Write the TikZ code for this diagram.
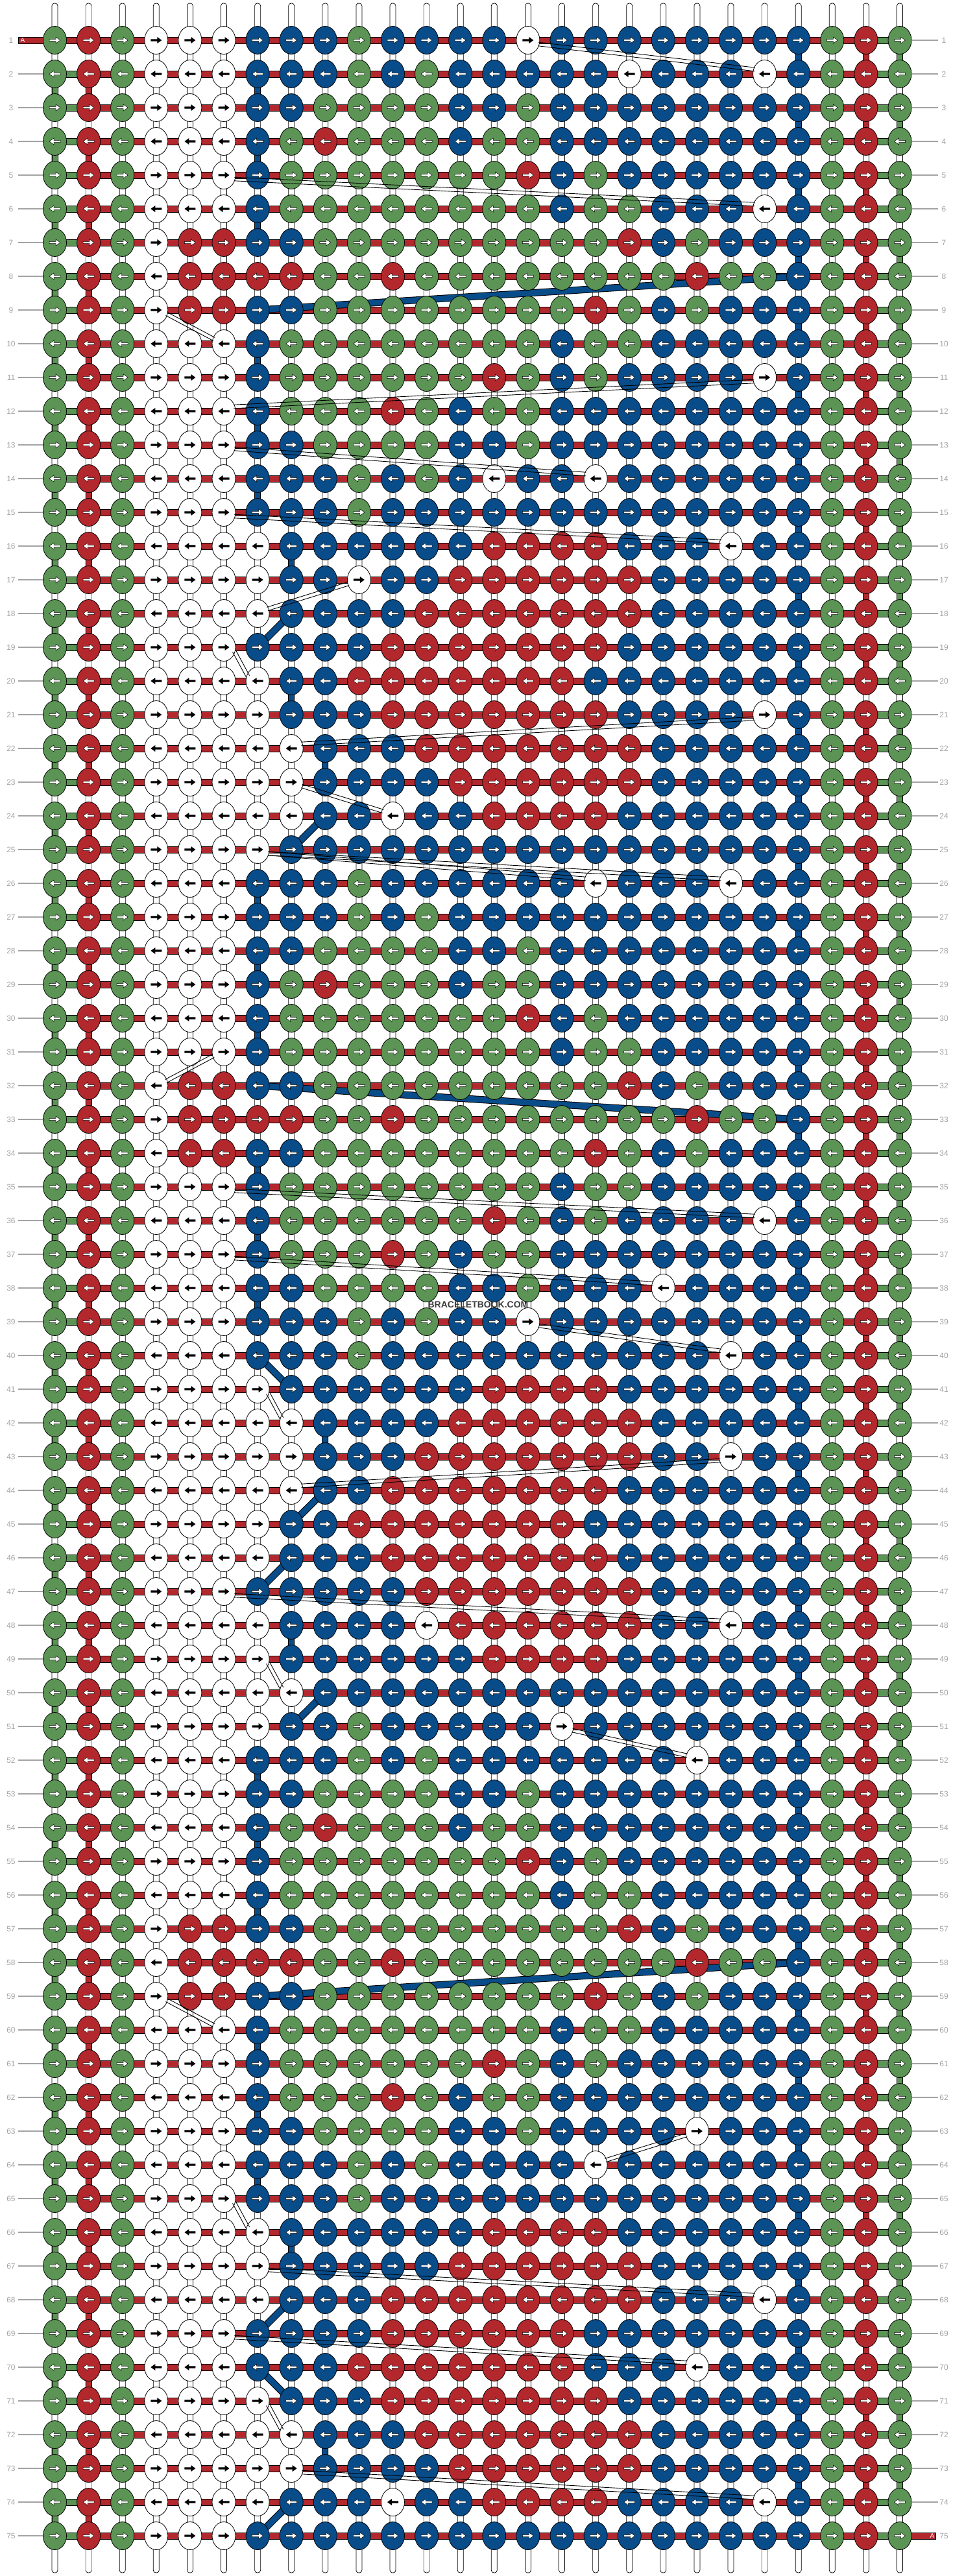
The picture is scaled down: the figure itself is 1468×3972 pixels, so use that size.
\documentclass[tikz,border=0pt]{standalone}
\usepackage{fontspec}
\setmainfont{Liberation Sans}
\definecolor{kG}{HTML}{5B9454}
\definecolor{kR}{HTML}{B2282D}
\definecolor{kB}{HTML}{084C8A}
\definecolor{kW}{HTML}{FFFFFF}
\definecolor{numgray}{HTML}{A3A3A3}
\definecolor{wmgray}{HTML}{3C3C3C}
\newcount\kc
\newcount\kr
\def\arrowpath{(-8.5,-1.6) -- (1.5,-1.6) -- (1.5,-5) -- (8.5,0) -- (1.5,5) -- (1.5,1.6) -- (-8.5,1.6) -- cycle}
\newcommand\putknot[3]{%
  \pgfmathsetmacro\xx{84.5+52.1*(#1-1)}%
  \pgfmathsetmacro\yy{62+52*(#2-1)}%
  \ifodd#2\relax\def\adir{1}\else\def\adir{-1}\fi
  \filldraw[fill=k#3,draw=black,line width=0.8pt] (\xx,\yy) ellipse [x radius=18,y radius=21.5];
  \ifx#3W%
    \fill[black,shift={(\xx,\yy)},xscale=\adir] \arrowpath;
  \else
    \filldraw[fill=white,draw=black,line width=0.5pt,shift={(\xx,\yy)},xscale=\adir] \arrowpath;
  \fi}
\def\knotrow#1#2{\kc=0 \kr=#1\relax\knotparse#2\relax}
\def\knotparse#1{\ifx#1\relax\else\advance\kc by 1 \putknot{\the\kc}{\the\kr}{#1}\expandafter\knotparse\fi}
\newcommand\vseg[3]{%
  \pgfmathsetmacro\xx{84.5+52.1*(#2-1)}%
  \pgfmathsetmacro\ya{62+52*(#1-1)}%
  \pgfmathsetmacro\yb{\ya+52}%
  \filldraw[fill=#3,draw=black,line width=0.7pt] (\xx-4.5,\ya) rectangle (\xx+4.5,\yb);}
\newcommand\bluelink[3]{%
  \pgfmathsetmacro\xa{84.5+52.1*(#2-1)}%
  \pgfmathsetmacro\xb{84.5+52.1*(#3-1)}%
  \pgfmathsetmacro\ya{62+52*(#1-1)}%
  \pgfmathsetmacro\yb{\ya+52}%
  \draw[black,line width=11pt] (\xa,\ya) -- (\xb,\yb);
  \draw[kB,line width=9pt] (\xa,\ya) -- (\xb,\yb);}
\newcommand\whitelink[3]{%
  \pgfmathsetmacro\sg{(#3>#2)*2-1}%
  \pgfmathsetmacro\xa{84.5+52.1*(#2-1)+16*\sg}%
  \pgfmathsetmacro\xb{84.5+52.1*(#3-1)-15*\sg}%
  \pgfmathsetmacro\ya{62+52*(#1-1)+6}%
  \pgfmathsetmacro\yb{62+52*#1-7}%
  \pgfmathsetmacro\lenv{veclen(\xb-\xa,\yb-\ya)}%
  \pgfmathsetmacro\nx{-(\yb-\ya)/\lenv*2.8}%
  \pgfmathsetmacro\ny{(\xb-\xa)/\lenv*2.8}%
  \draw[black,line width=0.9pt] (\xa+\nx,\ya+\ny) -- (\xb+\nx,\yb+\ny);
  \draw[black,line width=0.9pt] (\xa-\nx,\ya-\ny) -- (\xb-\nx,\yb-\ny);}
\tikzset{numlabel/.style={text=numgray,font=\fontsize{12}{12}\selectfont,inner sep=0pt},
  graylink/.style={draw=numgray,line width=1.2pt}}
\begin{document}
\begin{tikzpicture}[x=1pt,y=-1pt]
\useasboundingbox (0,0) rectangle (1468,3972);
\fill[white] (0,0) rectangle (1468,3972);
% vertical strings
\foreach \c in {1,...,26}{
  \pgfmathsetmacro\xx{84.5+52.1*(\c-1)}
  \filldraw[fill=white,draw=black,line width=0.7pt,rounded corners=4pt] (\xx-4.5,5) rectangle (\xx+4.5,3967);
}
% coloured string segments
\foreach \r in {2,4,...,74}{\vseg{\r}{1}{kG}\vseg{\r}{2}{kR}}
\foreach \r in {1,3,...,73}{\vseg{\r}{23}{kB}\vseg{\r}{25}{kR}\vseg{\r}{26}{kG}}
\foreach \r/\c in {2/7,4/7,6/7,10/7,12/7,14/7,16/8,20/8,22/9,26/7,28/7,30/7,34/7,36/7,38/7,42/9,48/8,52/7,54/7,56/7,60/7,62/7,64/7,66/8,72/9}{\vseg{\r}{\c}{kB}}
% horizontal bars
\foreach \r in {1,...,75}{
  \pgfmathsetmacro\yy{62+52*(\r-1)}
  \filldraw[fill=kR,draw=black,line width=0.8pt] (84.5,\yy-5) rectangle (1387,\yy+5);
  \filldraw[fill=kG,draw=black,line width=0.8pt] (1334.9,\yy-5) rectangle (1387,\yy+5);
  \ifnum\r>1 \filldraw[fill=kG,draw=black,line width=0.8pt] (84.5,\yy-5) rectangle (136.6,\yy+5);\fi
}
\filldraw[fill=kR,draw=black,line width=0.8pt] (28,57) rectangle (84.5,67);
\filldraw[fill=kR,draw=black,line width=0.8pt] (1387,3905) rectangle (1442,3915);
% thick blue strings
\foreach \r/\a/\b in {8/23/7,18/8/7,24/9/8,32/7/23,40/7/8,44/9/8,46/8/7,50/9/8,58/23/7,68/8/7,70/7/8,74/8/7}{\bluelink{\r}{\a}{\b}}
% knots
\knotrow{1}{GRGWWW BBBGBBBBWBBBBBBBB GRG}
\knotrow{2}{GRGWWW BBBGBGBBBBBWBBBWB GRG}
\knotrow{3}{GRGWWW BBGGGGBBGBBBBBBBB GRG}
\knotrow{4}{GRGWWW BGRGGGBGGBBBBBBBB GRG}
\knotrow{5}{GRGWWW BGGGGGGGRBGBBBBBB GRG}
\knotrow{6}{GRGWWW BGGGGGGGGBGGBBBWB GRG}
\knotrow{7}{GRGWRR BBGGGGGGGGGRBGBBB GRG}
\knotrow{8}{GRGWRR RRGGRGGGGGGGGRGGB GRG}
\knotrow{9}{GRGWRR BBGGGGGGGGRGBGBBB GRG}
\knotrow{10}{GRGWWW BGGGGGGGGBGGBBBBB GRG}
\knotrow{11}{GRGWWW BGGGGGGRGBGBBBBWB GRG}
\knotrow{12}{GRGWWW BGGGRGBGGBBBBBBBB GRG}
\knotrow{13}{GRGWWW BBGGGGBBGBBBBBBBB GRG}
\knotrow{14}{GRGWWW BBBGBGBWBBWBBBBBB GRG}
\knotrow{15}{GRGWWW BBBGBBBBBBBBBBBBB GRG}
\knotrow{16}{GRGWWW WBBBBBBRRRRBBBWBB GRG}
\knotrow{17}{GRGWWW WBBWBBRRRRRRBBBBB GRG}
\knotrow{18}{GRGWWW WBBBBRRRRRRRBBBBB GRG}
\knotrow{19}{GRGWWW BBBBRRRRRRRBBBBBB GRG}
\knotrow{20}{GRGWWW WBBRRRRRRRBBBBBBB GRG}
\knotrow{21}{GRGWWW WBBBRRRRRRRBBBBWB GRG}
\knotrow{22}{GRGWWW WWBBBRRRRRRRBBBBB GRG}
\knotrow{23}{GRGWWW WWBBBBRRRRRRBBBBB GRG}
\knotrow{24}{GRGWWW WWBBWBBRRRRBBBBBB GRG}
\knotrow{25}{GRGWWW WBBBBBBBBBBBBBBBB GRG}
\knotrow{26}{GRGWWW BBBGBBBBBBWBBBWBB GRG}
\knotrow{27}{GRGWWW BBBGBGBBBBBBBBBBB GRG}
\knotrow{28}{GRGWWW BBGGGGBBGBBBBBBBB GRG}
\knotrow{29}{GRGWWW BGRGGGBGGBBBBBBBB GRG}
\knotrow{30}{GRGWWW BGGGGGGGRBGBBBBBB GRG}
\knotrow{31}{GRGWWW BGGGGGGGGBGGBBBBB GRG}
\knotrow{32}{GRGWRR BBGGGGGGGGGRBGBBB GRG}
\knotrow{33}{GRGWRR RRGGRGGGGGGGGRGGB GRG}
\knotrow{34}{GRGWRR BBGGGGGGGGRGBGBBB GRG}
\knotrow{35}{GRGWWW BGGGGGGGGBGGBBBBB GRG}
\knotrow{36}{GRGWWW BGGGGGGRGBGBBBBWB GRG}
\knotrow{37}{GRGWWW BGGGRGBGGBBBBBBBB GRG}
\knotrow{38}{GRGWWW BBGGGGBBGBBBWBBBB GRG}
\knotrow{39}{GRGWWW BBBGBGBBWBBBBBBBB GRG}
\knotrow{40}{GRGWWW BBBGBBBBBBBBBBWBB GRG}
\knotrow{41}{GRGWWW WBBBBBBRRRRBBBBBB GRG}
\knotrow{42}{GRGWWW WWBBBBRRRRRRBBBBB GRG}
\knotrow{43}{GRGWWW WWBBBRRRRRRRBBWBB GRG}
\knotrow{44}{GRGWWW WWBBRRRRRRRBBBBBB GRG}
\knotrow{45}{GRGWWW WBBRRRRRRRBBBBBBB GRG}
\knotrow{46}{GRGWWW WBBBRRRRRRRBBBBBB GRG}
\knotrow{47}{GRGWWW BBBBBRRRRRRRBBBBB GRG}
\knotrow{48}{GRGWWW WBBBBWRRRRRRBBWBB GRG}
\knotrow{49}{GRGWWW WBBBBBBRRRRBBBBBB GRG}
\knotrow{50}{GRGWWW WWBBBBBBBBBBBBBBB GRG}
\knotrow{51}{GRGWWW WBBGBBBBBWBBBBBBB GRG}
\knotrow{52}{GRGWWW BBBGBGBBBBBBBWBBB GRG}
\knotrow{53}{GRGWWW BBGGGGBBGBBBBBBBB GRG}
\knotrow{54}{GRGWWW BGRGGGBGGBBBBBBBB GRG}
\knotrow{55}{GRGWWW BGGGGGGGRBGBBBBBB GRG}
\knotrow{56}{GRGWWW BGGGGGGGGBGGBBBBB GRG}
\knotrow{57}{GRGWRR BBGGGGGGGGGRBGBBB GRG}
\knotrow{58}{GRGWRR RRGGRGGGGGGGGRGGB GRG}
\knotrow{59}{GRGWRR BBGGGGGGGGRGBGBBB GRG}
\knotrow{60}{GRGWWW BGGGGGGGGBGGBBBBB GRG}
\knotrow{61}{GRGWWW BGGGGGGRGBGBBBBBB GRG}
\knotrow{62}{GRGWWW BGGGRGBGGBBBBBBBB GRG}
\knotrow{63}{GRGWWW BBGGGGBBGBBBBWBBB GRG}
\knotrow{64}{GRGWWW BBBGBGBBBBWBBBBBB GRG}
\knotrow{65}{GRGWWW BBBGBBBBBBBBBBBBB GRG}
\knotrow{66}{GRGWWW WBBBBBBRRRRBBBBBB GRG}
\knotrow{67}{GRGWWW WBBBBBRRRRRRBBBBB GRG}
\knotrow{68}{GRGWWW WBBBRRRRRRRRBBBWB GRG}
\knotrow{69}{GRGWWW BBBBRRRRRRBBBBBBB GRG}
\knotrow{70}{GRGWWW BBBRRRRRRRBBBWBBB GRG}
\knotrow{71}{GRGWWW WBBBRRRRRRRBBBBBB GRG}
\knotrow{72}{GRGWWW WWBBBRRRRRRRBBBBB GRG}
\knotrow{73}{GRGWWW WWBBBBRRRRRRBBBBB GRG}
\knotrow{74}{GRGWWW WBBBWBBRRRRBBBBWB GRG}
\knotrow{75}{GRGWWW BBBBBBBBBBBBBBBBB GRG}
% white strings moving across
\foreach \r/\a/\b in {1/15/22,5/6/22,9/4/6,11/22/6,13/6/17,15/6/21,17/10/7,19/6/7,21/22/8,23/8/11,25/7/17,25/7/21,31/6/4,35/6/22,37/6/19,39/15/21,41/7/8,43/21/8,47/6/21,49/7/8,51/16/20,59/4/6,63/20/17,65/6/7,67/7/22,69/6/20,71/7/8,73/8/22}{\whitelink{\r}{\a}{\b}}
% row numbers and leaders
\foreach \r in {1,...,75}{
  \pgfmathsetmacro\yy{62+52*(\r-1)}
  \node[numlabel] (ln\r) at (17,\yy) {\r};
  \node[numlabel] (rn\r) at (1455,\yy) {\r};
  \ifnum\r>1 \draw[graylink] (28,\yy) -- (66,\yy);\fi
  \ifnum\r<75 \draw[graylink] (1406,\yy) -- (1446,\yy);\fi
}
\node[text=white,font=\fontsize{10}{10}\selectfont,inner sep=0pt] (startA) at (35,62) {A};
\node[text=white,font=\fontsize{10}{10}\selectfont,inner sep=0pt] (endA) at (1437,3910) {A};
\node[text=wmgray,font=\bfseries\fontsize{14}{14}\selectfont,inner sep=1pt] (wm) at (737,2012) {BRACELETBOOK.COM};
\end{tikzpicture}
\end{document}
